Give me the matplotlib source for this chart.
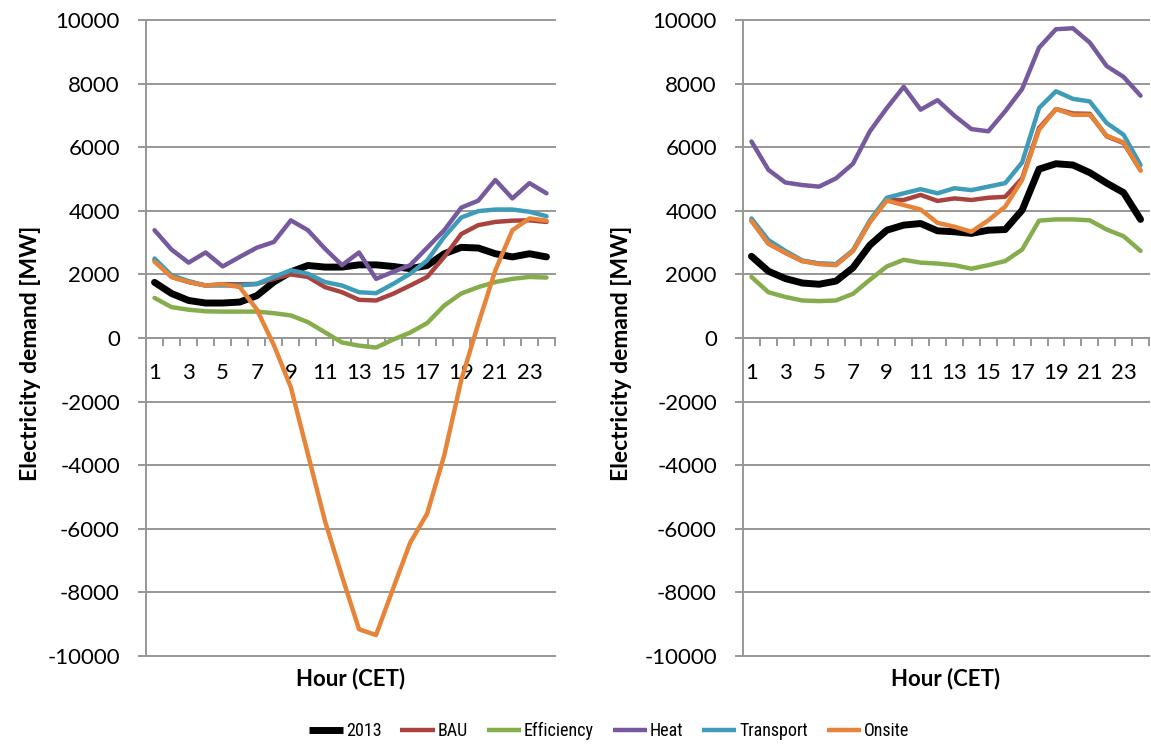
import matplotlib
matplotlib.use("Agg")
import matplotlib.pyplot as plt
import matplotlib.font_manager as fm
from matplotlib.lines import Line2D

# ---- data -----------------------------------------------------------------
hours = list(range(1, 25))
hour_labels = [str(h) for h in range(1, 24, 2)]
series_names = ["2013", "BAU", "Efficiency", "Heat", "Transport", "Onsite"]

# summer day (left panel)
summer_2013 = [1750, 1400, 1180, 1100, 1100, 1130, 1330, 1760, 2080, 2280, 2230, 2230,
               2300, 2300, 2250, 2180, 2280, 2650, 2850, 2830, 2650, 2550, 2650, 2550]
summer_bau = [2440, 1920, 1760, 1650, 1690, 1690, 1700, 1860, 2000, 1920, 1600, 1440,
              1200, 1180, 1390, 1650, 1920, 2550, 3270, 3550, 3650, 3690, 3700, 3650]
summer_efficiency = [1260, 970, 890, 840, 830, 830, 830, 780, 710, 500, 180, -140,
                     -240, -300, -50, 170, 470, 1020, 1400, 1600, 1760, 1860, 1920, 1900]
summer_heat = [3390, 2780, 2370, 2690, 2250, 2550, 2840, 3020, 3700, 3390, 2810, 2290,
               2690, 1860, 2080, 2290, 2840, 3390, 4100, 4320, 4970, 4390, 4870, 4550]
summer_transport = [2500, 1970, 1790, 1650, 1650, 1650, 1700, 1920, 2130, 2020, 1760, 1650,
                    1440, 1410, 1700, 2020, 2440, 3180, 3790, 3990, 4040, 4040, 3970, 3830]
summer_onsite = [2400, 1920, 1760, 1650, 1690, 1600, 900, -220, -1550, -3650, -5750, -7490,
                 -9160, -9340, -7880, -6440, -5520, -3690, -1320, 450, 2130, 3390, 3760, 3690]

# winter day (right panel)
winter_2013 = [2570, 2100, 1870, 1730, 1690, 1790, 2210, 2920, 3390, 3550, 3600, 3370,
               3340, 3290, 3390, 3410, 4020, 5310, 5480, 5440, 5200, 4870, 4570, 3730]
winter_bau = [3690, 2970, 2680, 2420, 2340, 2320, 2740, 3650, 4340, 4340, 4500, 4310,
              4390, 4340, 4410, 4440, 5020, 6600, 7200, 7060, 7050, 6340, 6130, 5270]
winter_efficiency = [1920, 1440, 1290, 1180, 1160, 1180, 1390, 1830, 2250, 2460, 2370, 2340,
                     2290, 2180, 2290, 2420, 2780, 3690, 3730, 3730, 3700, 3410, 3200, 2740]
winter_heat = [6180, 5290, 4890, 4810, 4760, 5020, 5480, 6500, 7230, 7900, 7180, 7480,
               6990, 6570, 6500, 7130, 7830, 9130, 9710, 9740, 9290, 8550, 8210, 7620]
winter_transport = [3760, 3080, 2740, 2440, 2340, 2320, 2760, 3700, 4410, 4550, 4680, 4550,
                    4710, 4650, 4760, 4870, 5520, 7230, 7760, 7520, 7440, 6760, 6390, 5440]
winter_onsite = [3690, 2970, 2680, 2420, 2320, 2290, 2740, 3650, 4320, 4180, 4040, 3620,
                 3500, 3340, 3700, 4130, 4970, 6550, 7200, 7020, 7020, 6360, 6150, 5270]

y_ticks = list(range(-10000, 10001, 2000))

# ---- style ----------------------------------------------------------------
colors = ["#000000", "#A9433F", "#86AD4C", "#775A9D", "#3E9CB8", "#E6843A"]
widths = [5.0, 3.2, 3.2, 3.2, 3.2, 3.2]
grid_color = "#979797"

available = {f.name for f in fm.fontManager.ttflist}
main_font = "Lato" if "Lato" in available else "DejaVu Sans"
legend_font = main_font
for cand in ["Liberation Sans Narrow", "Roboto Condensed", "Open Sans Condensed"]:
    if cand in available:
        legend_font = cand
        break

plt.rcParams["font.family"] = [main_font, "DejaVu Sans"]

W, H = 1151, 747
fig = plt.figure(figsize=(W / 100, H / 100), dpi=100)


def px_axes(left, top, right, bottom):
    return fig.add_axes([left / W, 1 - bottom / H, (right - left) / W, (bottom - top) / H])


def draw_panel(ax, data, label_x):
    for vals, c, lw in zip(data, colors, widths):
        ax.plot(hours, vals, color=c, lw=lw, solid_joinstyle="round",
                solid_capstyle="round", zorder=3)
    ax.set_xlim(0.5, 24.5)
    ax.set_ylim(-10000, 10000)
    # horizontal gridlines
    for yv in y_ticks:
        ax.axhline(yv, color=grid_color, lw=1.4, zorder=1, clip_on=False)
    for s in ["top", "right"]:
        ax.spines[s].set_visible(False)
    ax.spines["left"].set_color(grid_color)
    ax.spines["left"].set_linewidth(1.4)
    ax.spines["bottom"].set_position(("data", 0))
    ax.spines["bottom"].set_color(grid_color)
    ax.spines["bottom"].set_linewidth(1.4)
    ax.set_yticks(y_ticks)
    ax.set_yticklabels([str(v) for v in y_ticks])
    ax.tick_params(axis="y", direction="out", length=5.8, width=1.4, color=grid_color,
                   pad=13, labelsize=16)
    ax.set_xticks(range(1, 24, 2))
    ax.set_xticklabels(hour_labels)
    ax.set_xticks([h + 0.5 for h in range(0, 25)], minor=True)
    ax.tick_params(axis="x", which="major", length=0, pad=18, labelsize=16)
    ax.tick_params(axis="x", which="minor", direction="out", length=5.8, width=1.4,
                   color=grid_color)
    ax.set_ylabel("Electricity demand [MW]", fontsize=16.5, fontweight="bold")
    ax.yaxis.set_label_coords(label_x, 0.476)
    ax.set_xlabel("Hour (CET)", fontsize=16, fontweight="bold")
    ax.xaxis.set_label_coords(0.5, -0.035)
    ax.xaxis.label.set_va("center")


ax_summer = px_axes(146, 20, 555, 656)
draw_panel(ax_summer, [summer_2013, summer_bau, summer_efficiency, summer_heat,
                       summer_transport, summer_onsite], -0.257)

ax_winter = px_axes(743, 20, 1149, 656)
draw_panel(ax_winter, [winter_2013, winter_bau, winter_efficiency, winter_heat,
                       winter_transport, winter_onsite], -0.273)

handles = [Line2D([0], [0], color=c, lw=lw, solid_capstyle="butt")
           for c, lw in zip(colors, widths)]
fig.legend(handles, series_names, loc="center", ncol=6,
           bbox_to_anchor=(609 / W, 1 - 731 / H), frameon=False,
           prop={"family": legend_font, "size": 13},
           handlelength=1.9, handletextpad=0.15, columnspacing=1.05,
           borderaxespad=0)

fig.savefig("out.png", dpi=100)
